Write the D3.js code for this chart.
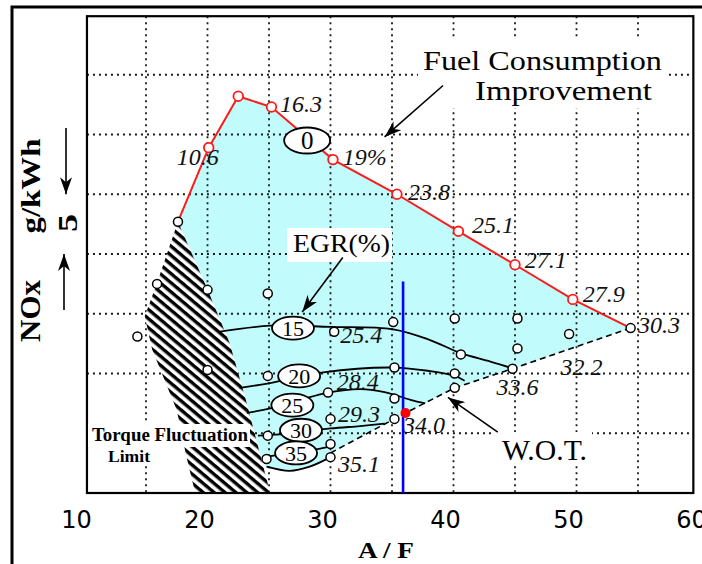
<!DOCTYPE html>
<html>
<head>
<meta charset="utf-8">
<script src="https://cdn.jsdelivr.net/npm/d3@7"></script>
<style>
  body { margin: 0; background: #fff; }
  svg { display: block; }
</style>
</head>
<body>
<div id="chart"></div>
<script>
"use strict";

// data in chart units: [A/F, NOx] (one grid step = 5 g/kWh)
var fuelLine = [[17.6, 22.7], [20.1, 28.9], [22.5, 33.2], [25.2, 32.3], [30.2, 27.9],
    [35.4, 25.0], [40.4, 21.9], [45.0, 19.1], [49.7, 16.2], [54.4, 13.8]];
var fuelMarks = [[20.1, 28.9], [22.5, 33.2], [25.2, 32.3], [30.2, 27.9], [35.4, 25.0],
    [40.4, 21.9], [45.0, 19.1], [49.7, 16.2]];
var fuelLabels = ["10.6", "16.3", "19%", "23.8", "25.1", "27.1", "27.9", "30.3"];
var fuelLabelAt = [[17.5, 27.45], [25.9, 31.9], [31.0, 27.45], [36.3, 24.5], [41.5, 21.75],
    [45.8, 18.8], [50.5, 16.0], [55.0, 13.4]];

var wotLine = [[54.4, 13.8], [44.8, 10.4], [40.1, 8.8], [36.1, 6.7], [30.0, 3.35]];
var wotLabels = ["32.2", "33.6", "34.0"];
var wotLabelAt = [[48.7, 9.9], [43.5, 8.2], [35.9, 5.0]];

// apex, left edge down, bottom, right edge up
var hatchArea = [[17.6, 22.7], [15.9, 17.6], [14.9, 14.8], [15.5, 12.0], [17.5, 6.95],
    [18.25, 3.2], [19.0, 0], [25.1, 0], [24.4, 2.75], [23.7, 5.5], [23.2, 7.5],
    [21.8, 12.55], [19.95, 17.15]];

var loop35 = [[30.0, 3.0], [28.3, 2.2], [26.7, 1.85], [24.8, 2.2]];
var contour15 = [[21.0, 13.5], [25.1, 14.0], [30.0, 13.9], [35.1, 13.7], [38.1, 12.8],
    [40.6, 11.7], [43.0, 11.0], [44.9, 10.4]];
var contour20 = [[22.6, 8.8], [25.1, 9.2], [29.4, 10.1], [35.2, 10.5], [38.1, 10.2],
    [40.1, 9.8], [40.9, 9.4]];
var contour25 = [[23.2, 6.7], [25.2, 7.1], [29.8, 8.4], [32.4, 8.7], [34.4, 8.45],
    [36.5, 7.8], [37.7, 7.5]];
var contour30 = [[24.1, 4.8], [25.9, 4.9], [30.0, 5.4], [32.4, 5.6], [34.4, 5.8]];
var contour35 = [[24.5, 3.0], [28.6, 3.6], [30.0, 3.9]];

var egrLevels = ["0", "15", "20", "25", "30", "35"];
var egrAt = [[28.1, 29.5], [26.95, 13.8], [27.45, 9.8], [26.9, 7.35], [27.6, 5.25], [27.2, 3.35]];
var egrLabels = ["25.4", "28.4", "29.3", "35.1"];
var egrLabelAt = [[30.8, 12.55], [30.5, 8.6], [30.6, 5.95], [30.6, 1.75]];

var openPoints = [[14.3, 13.1], [15.9, 17.5], [20.0, 17.0], [20.0, 10.3], [24.9, 16.7],
    [30.3, 13.5], [35.1, 14.3], [40.1, 14.6], [45.2, 14.6], [49.4, 13.3], [40.6, 11.6],
    [45.2, 12.1], [44.8, 10.4], [35.2, 10.5], [40.1, 10.0], [40.1, 8.8], [35.2, 7.9],
    [35.2, 6.2], [24.9, 9.8], [29.8, 8.4], [30.0, 6.2], [24.9, 4.8], [30.0, 4.1],
    [30.0, 3.0], [24.8, 2.85], [54.4, 13.8], [17.6, 22.7]];

var wotPoint = [36.1, 6.7];
var limitAF = 35.9, limitTop = 17.7;

var xTicks = [10, 20, 30, 40, 50, 60];
var xGrid = [15, 20, 25, 30, 35, 40, 45, 50, 55];
var yGrid = [5, 10, 15, 20, 25, 30, 35];

var W = 702, H = 564;
var x = d3.scaleLinear().domain([10, 60]).range([84.5, 699.5]);
var y = d3.scaleLinear().domain([0, 40]).range([493, 15]);
var px0 = x(10.2), px1 = x(59.5), py0 = y(39.9), py1 = y(0);

var serif = "'Liberation Serif', 'Times New Roman', serif";

var svg = d3.select("#chart").append("svg")
    .attr("width", W).attr("height", H);

var defs = svg.append("defs");
var pat = defs.append("pattern").attr("id", "hatch")
    .attr("patternUnits", "userSpaceOnUse")
    .attr("width", 7).attr("height", 7)
    .attr("patternTransform", "rotate(40)");
pat.append("rect").attr("width", 7).attr("height", 7).attr("fill", "#fff");
pat.append("rect").attr("width", 7).attr("height", 3.4).attr("fill", "#000");

defs.append("marker").attr("id", "head")
    .attr("markerUnits", "userSpaceOnUse")
    .attr("markerWidth", 18).attr("markerHeight", 12)
    .attr("refX", 17).attr("refY", 6).attr("orient", "auto")
    .append("path").attr("d", "M0,0 L17,6 L0,12 L5,6 Z").attr("fill", "#000");

svg.append("rect").attr("width", W).attr("height", H).attr("fill", "#fff");

// outer frame
svg.append("rect").attr("x", 12).attr("y", 7).attr("width", W + 20).attr("height", H + 20)
    .attr("fill", "none").attr("stroke", "#000").attr("stroke-width", 3);

var pt = function (d) { return x(d[0]) + "," + y(d[1]); };

// operating region
var region = fuelLine.concat(wotLine.slice(1), loop35, hatchArea.slice(8));
svg.append("polygon")
    .attr("points", region.map(pt).join(" "))
    .attr("fill", "#c2fbfb");

// grid
var grid = svg.append("g").attr("stroke", "#1a1a1a").attr("stroke-width", 1.8)
    .attr("stroke-dasharray", "2,4");
grid.selectAll(".gx").data(xGrid).join("line")
    .attr("x1", d => x(d)).attr("x2", d => x(d))
    .attr("y1", py0).attr("y2", py1);
grid.selectAll(".gy").data(yGrid).join("line")
    .attr("y1", d => y(d)).attr("y2", d => y(d))
    .attr("x1", px0).attr("x2", px1);

// torque fluctuation limit
svg.append("polygon").attr("points", hatchArea.map(pt).join(" "))
    .attr("fill", "url(#hatch)");

// plot frame
svg.append("rect").attr("x", px0).attr("y", py0)
    .attr("width", px1 - px0).attr("height", py1 - py0)
    .attr("fill", "none").attr("stroke", "#000").attr("stroke-width", 2.2);

var smooth = d3.line().x(d => x(d[0])).y(d => y(d[1])).curve(d3.curveCatmullRom.alpha(0.5));
var straight = d3.line().x(d => x(d[0])).y(d => y(d[1]));

svg.append("g").selectAll("path")
    .data([contour15, contour20, contour25, contour30, contour35, loop35])
    .join("path")
    .attr("d", smooth)
    .attr("fill", "none").attr("stroke", "#000").attr("stroke-width", 1.8);

svg.append("path").attr("d", straight(wotLine))
    .attr("fill", "none").attr("stroke", "#000").attr("stroke-width", 1.6)
    .attr("stroke-dasharray", "6,4");

svg.append("path").attr("d", straight(fuelLine))
    .attr("fill", "none").attr("stroke", "#ff1a1a").attr("stroke-width", 2);

svg.append("g").selectAll("circle").data(openPoints).join("circle")
    .attr("cx", d => x(d[0])).attr("cy", d => y(d[1])).attr("r", 4.5)
    .attr("fill", "#fff").attr("stroke", "#000").attr("stroke-width", 1.5);

svg.append("g").selectAll("circle").data(fuelMarks).join("circle")
    .attr("cx", d => x(d[0])).attr("cy", d => y(d[1])).attr("r", 4.8)
    .attr("fill", "#fff").attr("stroke", "#ff1a1a").attr("stroke-width", 1.8);

// EGR level ellipses
var egr = svg.append("g").selectAll("g").data(egrLevels).join("g")
    .attr("transform", (d, i) => "translate(" + x(egrAt[i][0]) + "," + y(egrAt[i][1]) + ")");
egr.append("ellipse")
    .attr("rx", d => d === "0" ? 23 : 21).attr("ry", d => d === "0" ? 13 : 11.5)
    .attr("fill", "#fff").attr("stroke", "#000").attr("stroke-width", 1.8);
egr.append("text").text(d => d)
    .attr("text-anchor", "middle").attr("dy", "0.35em")
    .attr("font-family", serif).attr("font-size", d => d === "0" ? 25 : 22);

// value labels
var vals = svg.append("g").attr("font-family", serif).attr("font-style", "italic")
    .attr("font-size", 24).attr("fill", "#111");
vals.selectAll(".f").data(fuelLabels).join("text").text(d => d)
    .attr("x", (d, i) => x(fuelLabelAt[i][0])).attr("y", (d, i) => y(fuelLabelAt[i][1]));
vals.selectAll(".w").data(wotLabels).join("text").text(d => d)
    .attr("x", (d, i) => x(wotLabelAt[i][0])).attr("y", (d, i) => y(wotLabelAt[i][1]));
vals.selectAll(".e").data(egrLabels).join("text").text(d => d)
    .attr("x", (d, i) => x(egrLabelAt[i][0])).attr("y", (d, i) => y(egrLabelAt[i][1]));

// annotations with white backing
function note(lines, box, size, weight) {
    svg.append("rect").attr("x", box[0]).attr("y", box[1])
        .attr("width", box[2]).attr("height", box[3]).attr("fill", "#fff");
    lines.forEach(function (l) {
        svg.append("text").text(l[0])
            .attr("x", l[1]).attr("y", l[2])
            .attr("textLength", l[3]).attr("lengthAdjust", "spacingAndGlyphs")
            .attr("font-family", serif).attr("font-size", size)
            .attr("font-weight", weight || "normal");
    });
}
note([["Fuel Consumption", 423, 70, 239], ["Improvement", 475, 100, 177]], [418, 40, 250, 68], 28);
note([["EGR(%)", 293, 252, 97]], [287, 228, 105, 34], 26);
note([["W.O.T.", 502, 460, 85]], [495, 432, 97, 33], 30);
note([["Torque Fluctuation", 92, 441, 156]], [88, 424, 162, 23], 18, "bold");
note([["Limit", 108, 462, 42]], [104, 447, 50, 19], 17, "bold");

var arrows = [
    [[39.15, 34.1], [34.4, 29.8]],
    [[31.0, 19.7], [27.7, 15.15]],
    [[43.6, 5.1], [39.55, 8.0]]
];
svg.append("g").selectAll("line").data(arrows).join("line")
    .attr("x1", d => x(d[0][0])).attr("y1", d => y(d[0][1]))
    .attr("x2", d => x(d[1][0])).attr("y2", d => y(d[1][1]))
    .attr("stroke", "#000").attr("stroke-width", 1.6)
    .attr("marker-end", "url(#head)");

// W.O.T. limit marker
svg.append("line")
    .attr("x1", x(limitAF)).attr("x2", x(limitAF))
    .attr("y1", y(limitTop)).attr("y2", y(0))
    .attr("stroke", "#0000ff").attr("stroke-width", 2.6);
svg.append("circle").attr("cx", x(wotPoint[0])).attr("cy", y(wotPoint[1])).attr("r", 5)
    .attr("fill", "#ff0000");

// x axis labels
svg.append("g").selectAll("text").data(xTicks).join("text")
    .text(d => d)
    .attr("x", d => x(d) - 8).attr("y", 528)
    .attr("text-anchor", "middle")
    .attr("font-family", "'DejaVu Sans', sans-serif").attr("font-size", 24);
svg.append("text").text("A / F")
    .attr("x", 386).attr("y", 558).attr("text-anchor", "middle")
    .attr("textLength", 56).attr("lengthAdjust", "spacingAndGlyphs")
    .attr("font-family", serif).attr("font-size", 23).attr("font-weight", "bold");

// y axis label and 5 g/kWh scale
function vtext(t, cx, cy, size, len) {
    svg.append("text").text(t)
        .attr("transform", "translate(" + cx + "," + cy + ") rotate(-90)")
        .attr("text-anchor", "middle")
        .attr("textLength", len).attr("lengthAdjust", "spacingAndGlyphs")
        .attr("font-family", serif).attr("font-size", size).attr("font-weight", "bold");
}
vtext("NOx", 40, 311, 30, 62);
vtext("g/kWh", 40, 186, 28, 95);
vtext("5", 77, 223, 28, 18);
svg.append("line").attr("x1", 66).attr("x2", 66).attr("y1", 128).attr("y2", y(25))
    .attr("stroke", "#000").attr("stroke-width", 1.6).attr("marker-end", "url(#head)");
svg.append("line").attr("x1", 64).attr("x2", 64).attr("y1", 310).attr("y2", y(20))
    .attr("stroke", "#000").attr("stroke-width", 1.6).attr("marker-end", "url(#head)");
</script>
</body>
</html>
